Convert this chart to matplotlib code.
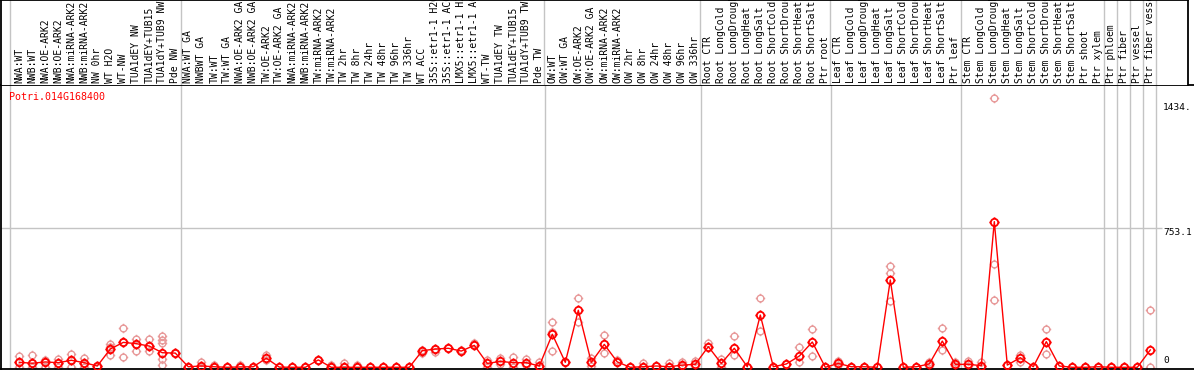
import matplotlib
matplotlib.use('Agg')
import matplotlib.pyplot as plt
from matplotlib.path import Path

title = "Potri.014G168400"

samples = [
    "NWA:WT", "NWB:WT", "NWA:OE-ARK2", "NWB:OE-ARK2", "NWA:miRNA-ARK2", "NWB:miRNA-ARK2",
    "NW 0hr", "WT H2O", "WT-NW", "TUA1dEY NW", "TUA1dEY+TUB15", "TUA1dY+TUB9 NW", "Pde NW",
    "NWA:WT GA", "NWBWT GA", "TW:WT", "TW:WT GA", "NWA:OE-ARK2 GA", "NWB:OE-ARK2 GA",
    "TW:OE-ARK2", "TW:OE-ARK2 GA", "NWA:miRNA-ARK2", "NWB:miRNA-ARK2", "TW:miRNA-ARK2",
    "TW:miRNA-ARK2", "TW 2hr", "TW 8hr", "TW 24hr", "TW 48hr", "TW 96hr", "TW 336hr",
    "WT ACC", "35S::etr1-1 H2O", "35S::etr1-1 ACC", "LMX5::etr1-1 H2O", "LMX5::etr1-1 ACC",
    "WT-TW", "TUA1dEY TW", "TUA1dEY+TUB15", "TUA1dY+TUB9 TW", "Pde TW",
    "OW:WT", "OW:WT GA", "OW:OE-ARK2", "OW:OE-ARK2 GA", "OW:miRNA-ARK2", "OW:miRNA-ARK2",
    "OW 2hr", "OW 8hr", "OW 24hr", "OW 48hr", "OW 96hr", "OW 336hr",
    "Root CTR", "Root LongCold", "Root LongDrought", "Root LongHeat", "Root LongSalt",
    "Root ShortCold", "Root ShortDrought", "Root ShortHeat", "Root ShortSalt", "Ptr root",
    "Leaf CTR", "Leaf LongCold", "Leaf LongDrought", "Leaf LongHeat", "Leaf LongSalt",
    "Leaf ShortCold", "Leaf ShortDrought", "Leaf ShortHeat", "Leaf ShortSalt", "Ptr leaf",
    "Stem CTR", "Stem LongCold", "Stem LongDrought", "Stem LongHeat", "Stem LongSalt",
    "Stem ShortCold", "Stem ShortDrought", "Stem ShortHeat", "Stem ShortSalt", "Ptr shoot",
    "Ptr xylem", "Ptr phloem", "Ptr fiber", "Ptr vessel", "Ptr fiber vessel",
]

means = [
    27, 22, 29, 25, 38, 25, 7, 99, 135, 128, 115, 79, 77,
    3, 7, 3, 0, 2, 3, 49, 1, 0, 0, 40, 0, 0, 0, 0, 0, 0, 0,
    90, 99, 103, 88, 119, 21, 32, 25, 25, 7,
    179, 27, 309, 27, 124, 29, 0, 3, 7, 3, 12, 16,
    112, 21, 103, 3, 283, 3, 18, 61, 137, 0,
    21, 3, 3, 0, 473, 0, 3, 18, 142, 16,
    16, 9, 789, 12, 52, 3, 139, 7, 0, 0,
    3, 0, 0, 0, 94,
]

replicates = [
    [61, 3, 27], [67, 3, 22], [40, 3, 29], [43, 3, 25], [70, 3, 38], [49, 3, 25],
    [7, 3], [126, 67, 110], [211, 54, 135], [155, 90, 128], [152, 90, 115],
    [168, 150, 130, 43, 12], [77, 77],
    [3, 3], [27, 3], [12, 3], [0, 0], [12, 0], [3, 3], [67, 40], [1], [0], [0],
    [40, 40], [12, 0], [21, 0], [12, 0], [0], [0], [0], [0],
    [76, 95], [85, 99], [103], [95, 88], [130, 119], [40, 3], [49, 20], [57, 3],
    [45, 10], [30, 3],
    [244, 193, 88], [27], [374, 244], [49, 5], [175, 76], [40, 29], [0], [21, 0],
    [7], [21, 0], [30, 5], [33, 5],
    [130, 112], [43, 3], [170, 67], [3], [374, 197], [3], [18], [112, 27],
    [206, 63], [0],
    [33, 10], [3], [3], [0], [549, 509, 359], [0], [3], [30, 5], [211, 94], [30, 5],
    [34, 5], [30, 0], [1457, 558, 365], [12], [67, 30], [3], [207, 72], [7], [0], [0],
    [3], [0], [0], [0], [310, 0],
]

group_ends = [12, 40, 52, 62, 72, 83, 84, 85, 86, 87]
grid_value = 753.1
ytick_values = [1434, 753.1, 0]
ytick_labels = ["1434.", "753.1", "0"]

# ---------------------------------------------------------------- layout
W, H = 1194, 370
fig = plt.figure(figsize=(W / 100, H / 100), dpi=100)


def px_rect(left, top, right, bottom):
    return [left / W, 1 - bottom / H, (right - left) / W, (bottom - top) / H]


X0, DX = 19.3, 13.0          # pixel position of first column and spacing
Y0, SY = 367.3, 0.1846       # pixel of zero value and pixels per unit
L, T, B = 1, 85, 369
R_HEAD, R_PLOT = 1188, 1194

ax = fig.add_axes(px_rect(L, T, R_PLOT, B))
hx = fig.add_axes(px_rect(L, 0, R_HEAD, T))

ax.set_xlim((L - X0) / DX, (R_PLOT - X0) / DX)
ax.set_ylim((Y0 - B) / SY, (Y0 - T) / SY)
hx.set_xlim((L - X0) / DX, (R_HEAD - X0) / DX)
hx.set_ylim(0, 1)

for a in (ax, hx):
    a.set_xticks([])
    a.set_yticks([])
    for s in a.spines.values():
        s.set_color('black')
        s.set_linewidth(1.3)
hx.spines['bottom'].set_visible(False)
ax.spines['right'].set_visible(False)

mono = 'DejaVu Sans Mono'
gray = '#c4c4c4'

# separators
vlines = [(10 - X0) / DX] + [g + 0.4 for g in group_ends]
for v in vlines:
    ax.axvline(v, color=gray, lw=1, zorder=1)
    hx.axvline(v, color=gray, lw=1, zorder=1)
ax.hlines(grid_value, (L - X0) / DX, (1161.5 - X0) / DX, color=gray, lw=1, zorder=1)

# marker: open circle with four short ticks
circ = Path.unit_circle()
verts = list(circ.vertices)
codes = list(circ.codes)
for dx, dy in [(0, 1), (0, -1), (1, 0), (-1, 0)]:
    verts += [(dx * 1.0, dy * 1.0), (dx * 1.4, dy * 1.4)]
    codes += [Path.MOVETO, Path.LINETO]
marker = Path(verts, codes)

idx = list(range(len(samples)))
rx, ry = [], []
for i, reps in enumerate(replicates):
    for r in reps:
        rx.append(i)
        ry.append(r)
ax.plot(rx, ry, linestyle='none', marker=marker, ms=6.8, mfc='none',
        mec='#e89a9a', mew=1.0, zorder=2)
ax.plot(idx, means, color='red', lw=1.0, zorder=3)
ax.plot(idx, means, linestyle='none', marker=marker, ms=7.4, mfc='none',
        mec='red', mew=1.3, zorder=4)

# sample labels in header
for i, lab in enumerate(samples):
    hx.text(i, 2 / 85, lab, rotation=90, ha='center', va='bottom',
            fontsize=7.0, family=mono, color='black')

# value labels
tx = (1163 - X0) / DX
for v, lab in zip(ytick_values, ytick_labels):
    if v == 0:
        ax.text(tx, 12, lab, ha='left', va='bottom', fontsize=6.8, family=mono)
    else:
        ax.text(tx, v, lab, ha='left', va='top', fontsize=6.8, family=mono)

ax.text((8.5 - X0) / DX, (Y0 - 96.7) / SY, title, color='red', ha='left',
        va='center', fontsize=7.2, family=mono)

fig.savefig('out.png', dpi=100)
